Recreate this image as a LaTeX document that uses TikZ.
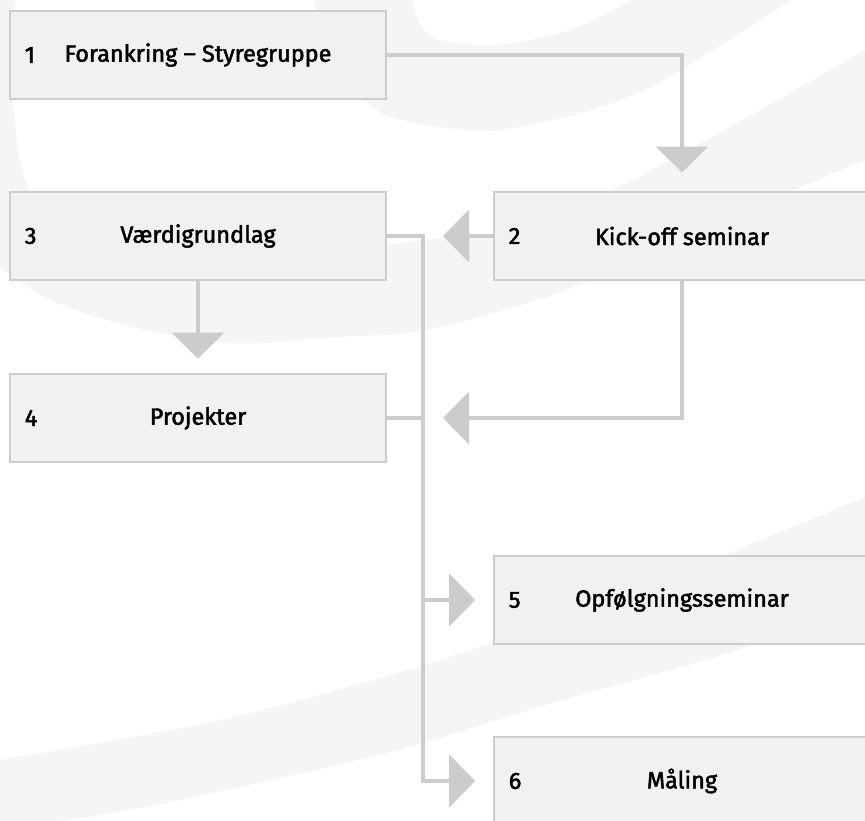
\documentclass[tikz,border=0pt]{standalone}
\usepackage{fontspec}
\setmainfont{Fira Sans}[FakeBold=2]
\usetikzlibrary{arrows.meta,positioning}

\definecolor{boxfill}{HTML}{F1F1F1}
\definecolor{boxline}{HTML}{CCCCCC}
\definecolor{wmark}{HTML}{F5F5F5}

\def\ux{0.75pt}

\begin{document}
\begin{tikzpicture}[x=\ux,y=-\ux, font=\fontsize{17.6}{20}\selectfont]
		\tikzset{
			phase/.style={rectangle, draw=boxline, fill=boxfill, line width=1.2pt,
				minimum width=282pt, minimum height=66pt, inner sep=0pt},
			num/.style={inner sep=0pt, anchor=west},
			conn/.style={draw=boxline, line width=3.3pt},
			tip/.style={conn, -{Triangle[width=39pt,length=19.5pt]}},
		}
		\useasboundingbox (0,0) rectangle (865,821);
		\fill[white] (0,0) rectangle (865,821);

		% watermark
		\fill[wmark] plot[smooth] coordinates {(314,0) (340,70) (380,112) (440,127)
			(498,130) (580,113) (658,83) (792,0)}
			-- plot[smooth] coordinates {(632,0) (570,30) (498,45) (440,40) (420,25) (413,0)}
			-- cycle;
		\fill[wmark] plot[smooth] coordinates {(15,0) (13,100) (25,180) (60,235) (150,258)
			(300,255) (425,240) (525,227) (658,167) (865,50)}
			-- (870,50) -- (870,160)
			-- plot[smooth] coordinates {(865,160) (692,233) (558,293) (425,330) (333,337)
			(233,343) (133,327) (50,300) (0,267)}
			-- (-5,267) -- (-5,0) -- cycle;
		\fill[wmark] plot[smooth] coordinates {(0,760) (221,720) (441,660) (662,580) (865,497)}
			-- (870,497) -- (870,590)
			-- plot[smooth] coordinates {(865,590) (745,647) (552,703) (386,753) (165,803) (60,821)}
			-- (0,821) -- cycle;

		\node[phase] (b1) at (198,55) {Forankring – Styregruppe};
		\node[phase] (b2) at (682,236) {Kick-off seminar};
		\node[phase] (b3) at (198,236) {Værdigrundlag};
		\node[phase] (b4) at (198,418) {Projekter};
		\node[phase] (b5) at (682,600) {Opfølgningsseminar};
		\node[phase] (b6) at (682,781) {Måling};
		\foreach \i in {1,...,6}{
			\node[num, right=11.5pt of b\i.west] (n\i) {\i};
		}
		\coordinate (bus) at (423,0);

		\draw[tip, shorten >=14pt] (b1.east) -| (b2.north);
		\draw[tip, shorten >=15pt] (b2.west) -- (b2.west -| bus);
		\draw[tip, shorten >=11pt] (b3.south) -- (b4.north);
		\draw[tip, shorten >=15pt] (b2.south) |- (b4.east -| bus);
		\draw[conn] (b4.east) -- (b4.east -| bus);
		\draw[tip, shorten >=13.5pt] (b3.east) -| (b6.west -| bus) -- (b6.west);
		\draw[tip, shorten >=13.5pt] (b5.west -| bus) -- (b5.west);
\end{tikzpicture}
\end{document}
